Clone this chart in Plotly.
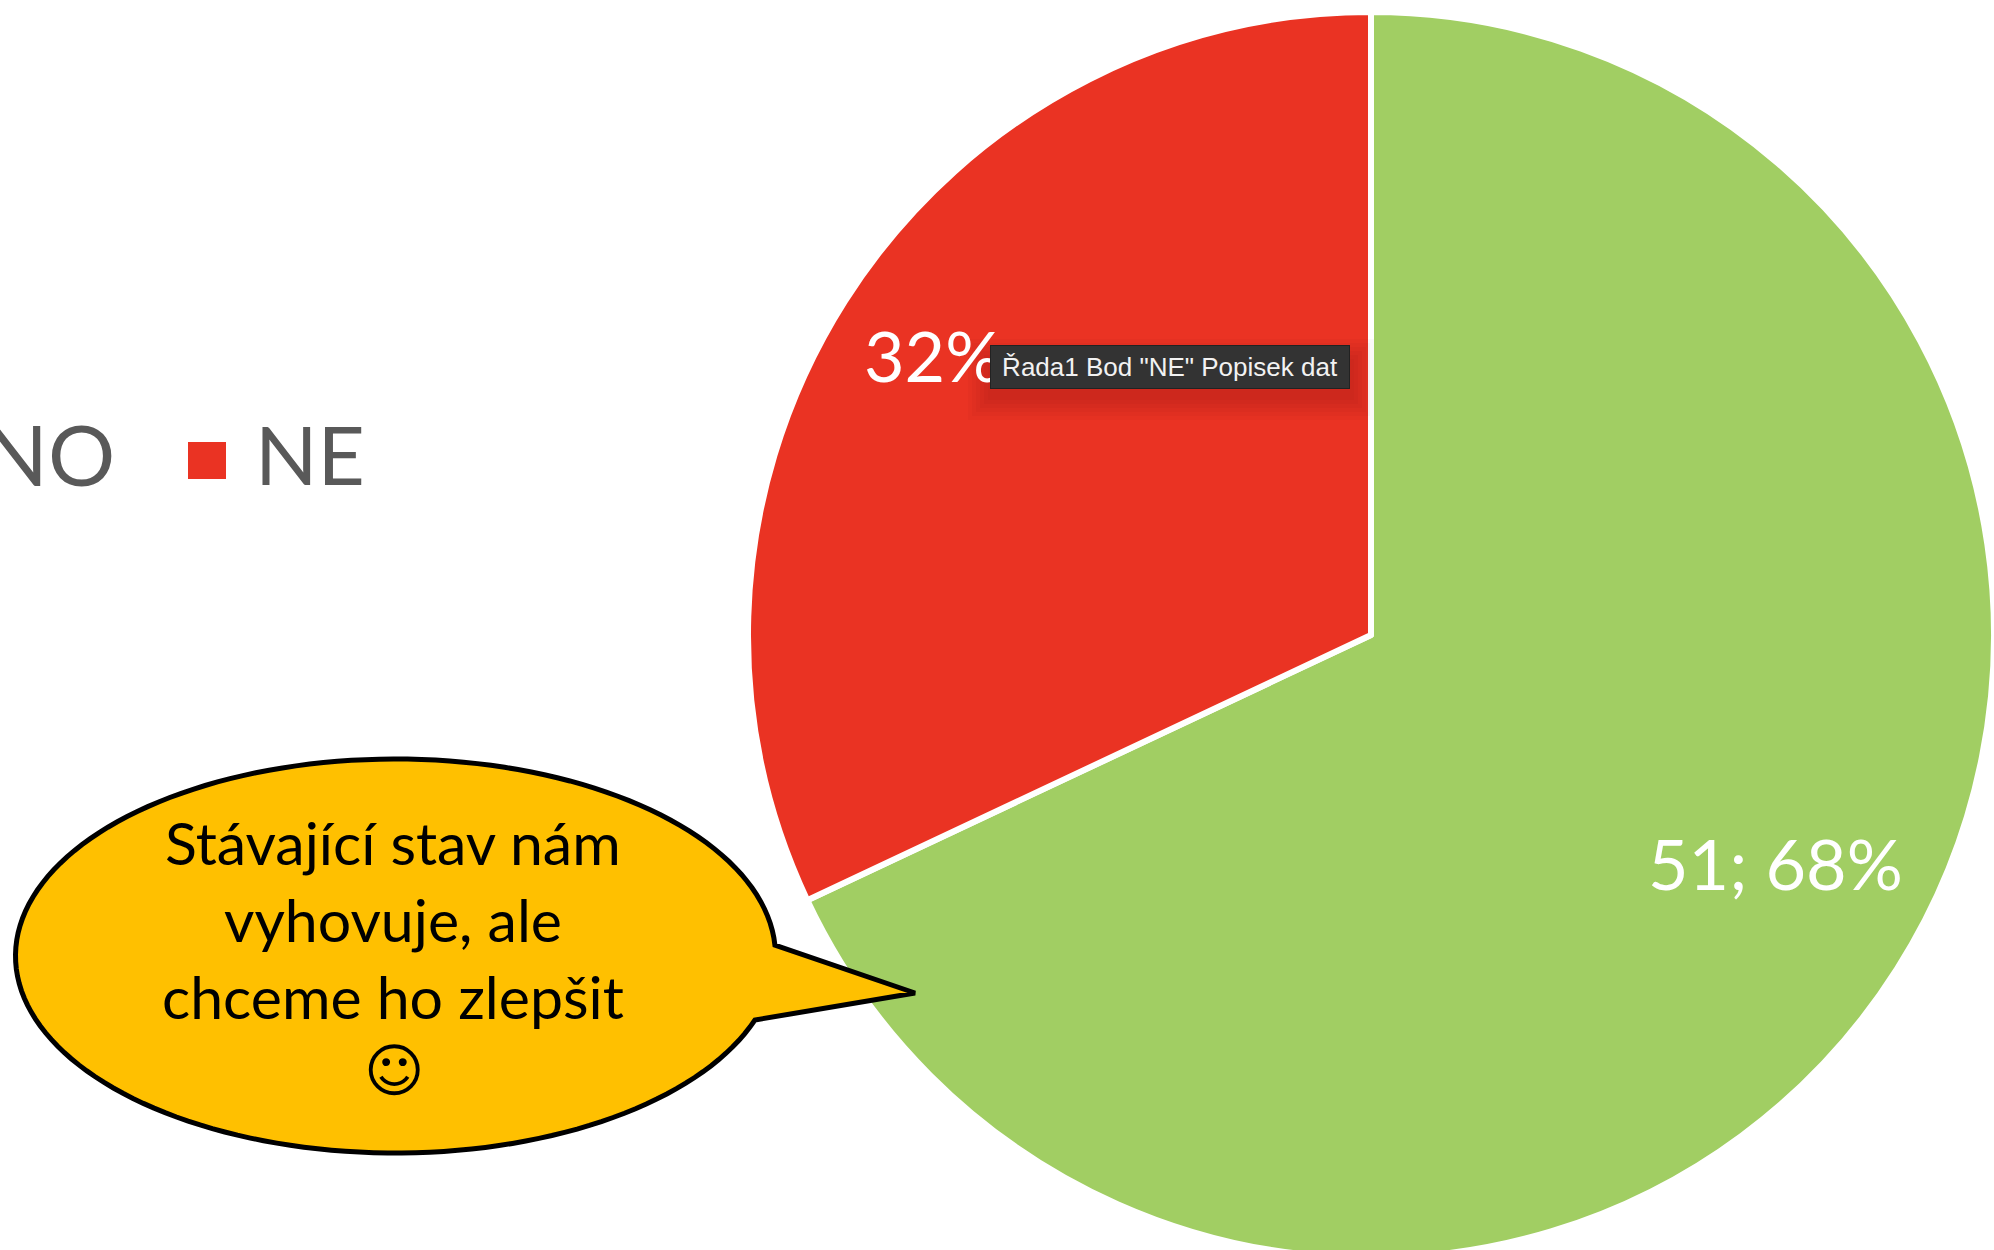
import numpy as np
import plotly.graph_objects as go

W, H = 1994, 1260   # the page shows the top 1250 px; the pie runs off the bottom edge

categories = ["ANO", "NE"]
values = [51, 24]
colors = ["#A1CE63", "#EA3323"]
callout_lines = ["Stávající stav nám", "vyhovuje, ale", "chceme ho zlepšit"]
smiley = "☺"
tooltip_text = 'Řada1 Bod "NE" Popisek dat'

total = sum(values)
pct = [round(v / total * 100) for v in values]


def px(x):
    return x / W


def py(y):
    return 1 - y / H


def ann(text, x, y, size, color, family="Lato", xanchor="center", **kw):
    return dict(text=text, x=px(x), y=py(y), xref="paper", yref="paper",
                xanchor=xanchor, yanchor="middle", showarrow=False,
                font=dict(family=family, size=size, color=color), **kw)


fig = go.Figure(go.Pie(
    labels=categories, values=values, sort=False, direction="clockwise", rotation=0,
    marker=dict(colors=colors, line=dict(color="white", width=6)),
    textinfo="none", hoverinfo="label+value+percent", showlegend=False,
    domain=dict(x=[px(748), px(1994)], y=[py(1258), py(12)]),
))

# speech bubble outline
cx, cy, rx, ry = 395.5, 956, 380, 197
a0 = np.arctan2((945 - cy) / ry, (776 - cx) / rx)
a1 = np.arctan2((1020 - cy) / ry, (755 - cx) / rx)
angles = np.linspace(a0, a1 - 2 * np.pi, 160)
pts = [(cx + rx * np.cos(a), cy + ry * np.sin(a)) for a in angles]
path = "M" + " L".join(f"{px(x):.5f},{py(y):.5f}" for x, y in pts)
path += f" L{px(915):.5f},{py(993):.5f} Z"

shapes = [
    # tooltip soft shadow
    *[dict(type="rect", xref="paper", yref="paper",
           x0=px(992 - g), x1=px(1350 + g), y0=py(355 - g + 8), y1=py(388 + g + 8),
           fillcolor="rgba(60,0,0,0.025)", line=dict(width=0), layer="above")
      for g in (24, 20, 16, 12, 8, 4)],
    dict(type="path", path=path, xref="paper", yref="paper",
         fillcolor="#FFC000", line=dict(color="black", width=5), layer="above"),
    # legend swatch
    dict(type="rect", xref="paper", yref="paper",
         x0=px(188), x1=px(226), y0=py(442), y1=py(479),
         fillcolor=colors[1], line=dict(width=0), layer="above"),
]

annotations = [
    ann(categories[0], 117, 453, 84, "#595959", xanchor="right"),
    ann(categories[1], 253, 453, 82, "#595959", xanchor="left"),
    ann(f"{values[0]}; {pct[0]}%", 1775, 863, 70, "white"),
    ann(f"{pct[1]}%", 932, 355, 70, "white"),
    ann(tooltip_text, 1170, 367, 26, "#F2F2F2", family="Liberation Sans",
        bgcolor="#333333", bordercolor="#222222", borderwidth=1, width=356, height=40, align="center"),
    ann(callout_lines[0], 393, 842, 59, "black"),
    ann(callout_lines[1], 393, 919, 59, "black"),
    ann(callout_lines[2], 393, 996, 59, "black"),
    ann(smiley, 394, 1071, 58, "black", family="DejaVu Sans"),
]

fig.update_layout(
    width=W, height=H, margin=dict(l=0, r=0, t=0, b=0),
    paper_bgcolor="white", plot_bgcolor="white",
    shapes=shapes, annotations=annotations,
)
fig.write_html("out.html", config=dict(displayModeBar=False),
               post_script="document.body.style.margin='0';document.body.style.overflow='hidden';document.documentElement.style.overflow='hidden';")
